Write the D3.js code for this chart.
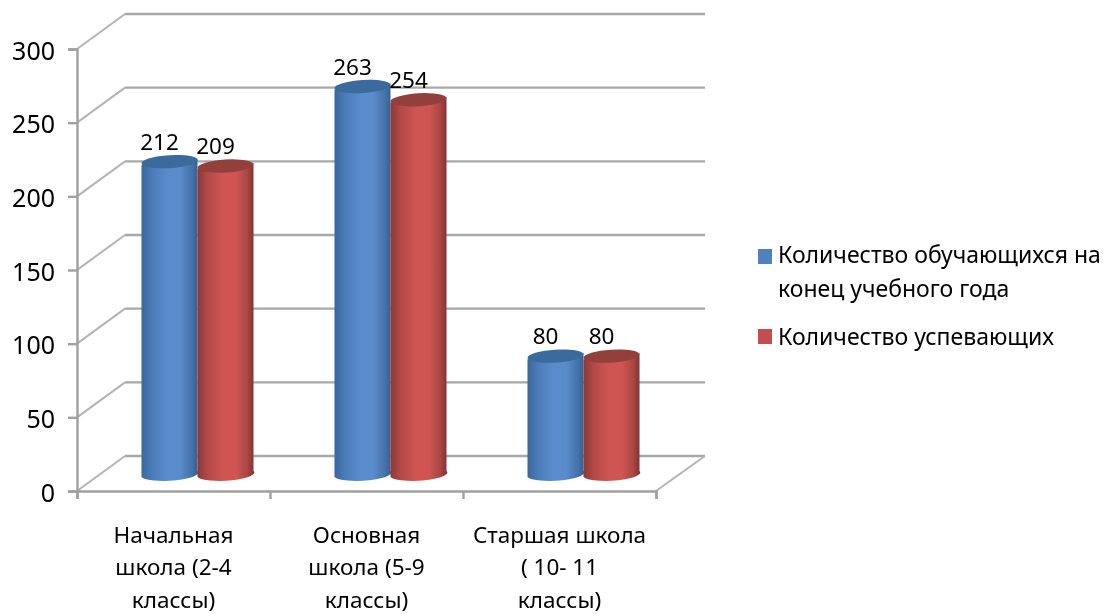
<!DOCTYPE html>
<html>
<head>
<meta charset="utf-8">
<script src="https://cdn.jsdelivr.net/npm/d3@7"></script>
<style>
  html, body { margin: 0; padding: 0; background: #fff; }
  text { font-family: "Noto Sans", "Open Sans", sans-serif; fill: #000; }
  .axis-y text { font-size: 25px; }
  .cat-label { font-size: 22.5px; }
  .value-label { font-size: 22.5px; }
  .legend-label { font-size: 23px; }
</style>
</head>
<body>
<div id="chart"></div>
<script>
// Chart data
var categories = [
  ["Начальная", "школа (2-4", "классы)"],
  ["Основная", "школа (5-9", "классы)"],
  ["Старшая школа", "( 10- 11", "классы)"]
];
var seriesNames = ["Количество обучающихся на конец учебного года", "Количество успевающих"];
var enrolled = [212, 263, 80];
var passing = [209, 254, 80];
var yTicks = [0, 50, 100, 150, 200, 250, 300];

var svgWidth = 1104;
var svgHeight = 614;

// Front plane of the 3d box, the back wall is shifted by depth
var front = { left: 77, right: 656, top: 49, bottom: 491 };
var depth = { x: 48, y: -35 };
var colors = [
  { stops: ["#39669a", "#4a7cb8", "#5a8ccb", "#5a8ccb", "#4473ab", "#345e8d"], top: "#3b6a9c", flat: "#4f81bd" },
  { stops: ["#8a3836", "#b34a48", "#cf5553", "#cf5553", "#a84644", "#7f3230"], top: "#93403e", flat: "#c0504d" }
];
var stopOffsets = ["0%", "18%", "45%", "68%", "88%", "100%"];

var svg = d3.select("#chart")
  .append("svg")
  .attr("width", svgWidth)
  .attr("height", svgHeight)
  .style("display", "block");

var defs = svg.append("defs");
defs.append("filter").attr("id", "soft")
  .append("feGaussianBlur").attr("stdDeviation", 0.55);

colors.forEach(function (c, i) {
  var grad = defs.append("linearGradient").attr("id", "cyl" + i);
  c.stops.forEach(function (stop, j) {
    grad.append("stop").attr("offset", stopOffsets[j]).attr("stop-color", stop);
  });
});

// Scales
var yScale = d3.scaleLinear().domain([0, 300]).range([front.bottom, front.top]);
var xEdge = d3.scaleLinear().domain([0, categories.length]).range([front.left, front.right]);
var xBand = d3.scaleBand().domain(d3.range(categories.length)).range([front.left, front.right]);
var xSeries = d3.scaleBand().domain([0, 1]).range([-56, 56]);

// Cylinders stand half way into the box
var midX = depth.x / 2;
var midY = -17;
var chart = svg.append("g").attr("filter", "url(#soft)");

// Walls and floor
var grid = chart.append("g").attr("stroke", "#a8a8a8").attr("stroke-width", 2.4).attr("fill", "none");
yTicks.forEach(function (t) {
  var y = yScale(t);
  grid.append("line").attr("x1", front.left).attr("y1", y)
    .attr("x2", front.left + depth.x).attr("y2", y + depth.y).attr("stroke", "#b4b4b4").attr("stroke-width", 2);
  grid.append("line").attr("x1", front.left + depth.x).attr("y1", y + depth.y)
    .attr("x2", front.right + depth.x + 1).attr("y2", y + depth.y);
});
grid.append("line")
  .attr("x1", front.right).attr("y1", yScale(0))
  .attr("x2", front.right + depth.x + 1).attr("y2", yScale(0) + depth.y)
  .attr("stroke", "#b4b4b4").attr("stroke-width", 2);

// Axes
var yAxis = chart.append("g")
  .attr("class", "axis-y")
  .attr("transform", "translate(" + front.left + ",0)")
  .call(d3.axisLeft(yScale).tickValues(yTicks).tickSize(9).tickPadding(13));

var xAxis = chart.append("g")
  .attr("transform", "translate(0," + front.bottom + ")")
  .call(d3.axisBottom(xEdge).tickValues(d3.range(categories.length + 1)).tickSize(8).tickFormat(""));

chart.selectAll(".domain, .tick line").attr("stroke", "#a0a0a0").attr("stroke-width", 2.4);
yAxis.selectAll("text").attr("dy", "0.4em").style("fill", "#000");

// One cylinder: tilted bottom and top ellipses joined by straight sides
function drawCylinder(g, cx, topY, botY, s) {
  var rx = xSeries.bandwidth() / 2;
  var ry = 6.5;
  var tilt = 3;
  g.append("path")
    .attr("d", "M" + (cx - rx) + "," + (topY + tilt) +
      " L" + (cx - rx) + "," + (botY + tilt) +
      " A" + rx + "," + ry + " -3 0 0 " + (cx + rx) + "," + (botY - tilt) +
      " L" + (cx + rx) + "," + (topY - tilt) + " Z")
    .attr("fill", "url(#cyl" + s + ")");
  g.append("ellipse")
    .attr("cx", cx).attr("cy", topY)
    .attr("rx", rx).attr("ry", ry)
    .attr("transform", "rotate(-3.5 " + cx + " " + topY + ")")
    .attr("fill", colors[s].top);
}

var barY = function (v) { return yScale(v) + midY; };
[enrolled, passing].forEach(function (values, s) {
  var g = chart.append("g").attr("class", "series");
  values.forEach(function (v, i) {
    var cx = xBand(i) + xBand.bandwidth() / 2 + midX + xSeries(s) + xSeries.bandwidth() / 2;
    drawCylinder(g, cx, barY(v), barY(0), s);
  });
});

// Value labels sit a little left of the cylinder centre
[enrolled, passing].forEach(function (values, s) {
  chart.append("g").selectAll("text")
    .data(values)
    .enter()
    .append("text")
    .attr("class", "value-label")
    .attr("text-anchor", "middle")
    .attr("x", function (d, i) {
      return xBand(i) + xBand.bandwidth() / 2 + midX + xSeries(s) + xSeries.bandwidth() / 2 - 10;
    })
    .attr("y", function (d) { return barY(d) - 12; })
    .text(function (d) { return d; });
});

// Category labels
var catLineY = [543, 575, 608];
categories.forEach(function (lines, i) {
  lines.forEach(function (line, j) {
    chart.append("text")
      .attr("class", "cat-label")
      .attr("text-anchor", "middle")
      .attr("x", xBand(i) + xBand.bandwidth() / 2)
      .attr("y", catLineY[j])
      .text(line);
  });
});

// Legend
var legend = chart.append("g");
legend.append("rect").attr("x", 758).attr("y", 249).attr("width", 14).attr("height", 15).attr("fill", colors[0].flat);
legend.append("rect").attr("x", 758).attr("y", 329).attr("width", 14).attr("height", 15).attr("fill", colors[1].flat);
legend.append("text").attr("class", "legend-label").attr("x", 778).attr("y", 263).text("Количество обучающихся на");
legend.append("text").attr("class", "legend-label").attr("x", 778).attr("y", 297).text("конец учебного года");
legend.append("text").attr("class", "legend-label").attr("x", 778).attr("y", 345).text(seriesNames[1]);
</script>
</body>
</html>
